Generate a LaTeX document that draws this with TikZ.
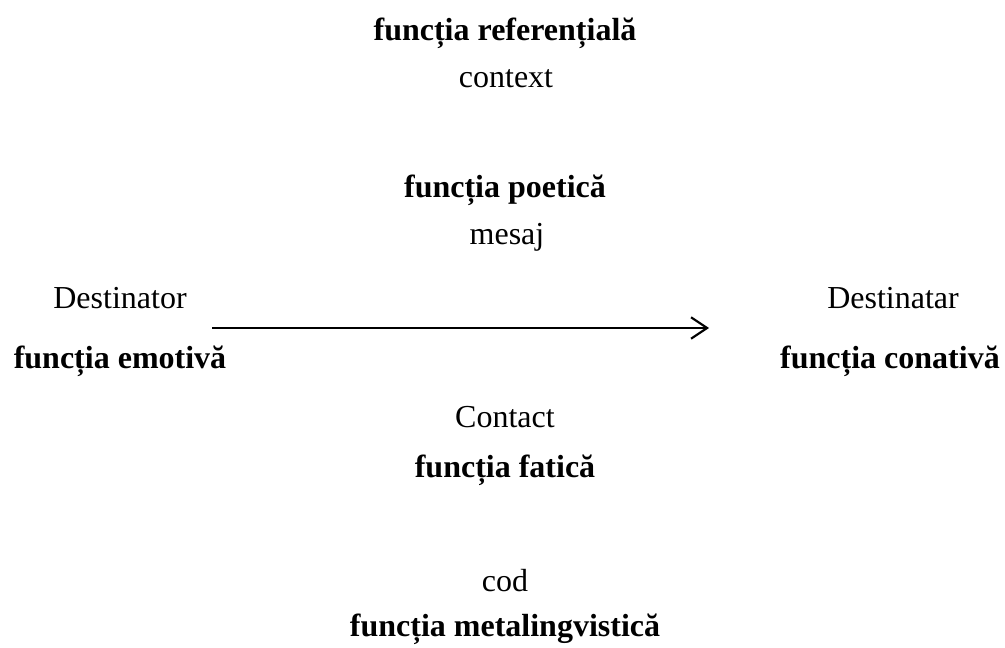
\documentclass[tikz,border=0pt]{standalone}
\usepackage{fontspec}
\setmainfont{Liberation Serif}
\usetikzlibrary{arrows.meta}
\begin{document}
\begin{tikzpicture}[x=0.75pt,y=-0.75pt,
  lbl/.style={font=\fontsize{24}{26}\selectfont, inner sep=0pt},
  fn/.style={lbl, font=\fontsize{24}{26}\selectfont\bfseries},
  flow/.style={line width=2pt, -{Straight Barb[length=12pt,width=16pt,line width=1.6pt]}}]
\useasboundingbox (0,0) rectangle (1005,648);
\node[fn]  (ref)  at (505,33.5)  {funcția referențială};
\node[lbl] (ctx)  at (506,78.5)  {context};
\node[fn]  (poet) at (505,190.5) {funcția poetică};
\node[lbl] (msg)  at (507,237.5) {mesaj};
\node[lbl] (src)  at (120,298.5) {Destinator};
\node[fn]  (emo)  at (120,361.5) {funcția emotivă};
\node[lbl] (dst)  at (893,298.5) {Destinatar};
\node[fn]  (con)  at (890,361.5) {funcția conativă};
\coordinate (a0) at (212,328);
\coordinate (a1) at (709,328);
\draw[flow] (a0) -- (a1);
\node[lbl] (cnt)  at (505,417.5) {Contact};
\node[fn]  (fat)  at (505,470.5) {funcția fatică};
\node[lbl] (cod)  at (505,580.5) {cod};
\node[fn]  (meta) at (505,629.5) {funcția metalingvistică};
\end{tikzpicture}
\end{document}
